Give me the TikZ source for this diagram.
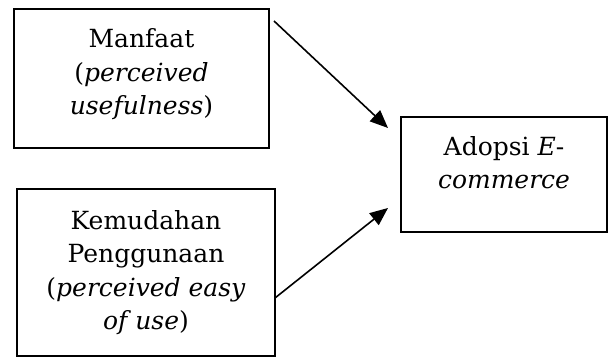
\documentclass[tikz,border=0pt]{standalone}
\usepackage{fontspec}
\setmainfont{DejaVu Serif}
\usetikzlibrary{arrows.meta}

\begin{document}
\begin{tikzpicture}[x=1pt, y=1pt, ->, >={Triangle[length=18pt,width=15pt]}, line width=1.6pt, box/.style={draw, rectangle, align=center, inner sep=0pt, font=\fontsize{25}{33.5}\selectfont}]
\useasboundingbox (0,0) rectangle (613,358);
\node[box, minimum width=255pt, minimum height=139pt] (1) at (141.5,279.5) {Manfaat\\(\textit{perceived}\\\textit{usefulness})\\[-20pt]};
\node[box, minimum width=258pt, minimum height=167pt] (2) at (146,85.5) {Kemudahan\\Penggunaan\\(\textit{perceived easy}\\\textit{of use})};
\node[box, minimum width=206pt, minimum height=115pt] (3) at (504,183.5) {Adopsi \textit{E}-\\\textit{commerce}\\[-10pt]};
\coordinate (4) at (274,337);
\coordinate (5) at (388,230);
\coordinate (6) at (275,60);
\coordinate (7) at (388,150);
\path
(4) edge (5)
(6) edge (7);
\end{tikzpicture}
\end{document}
